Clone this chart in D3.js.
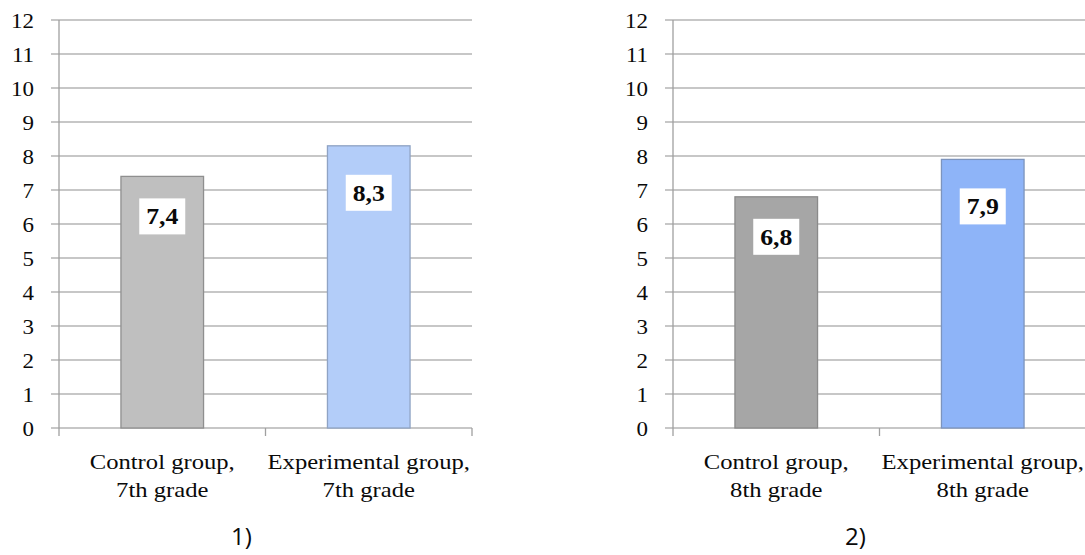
<!DOCTYPE html>
<html>
<head>
<meta charset="utf-8">
<script src="https://cdn.jsdelivr.net/npm/d3@7"></script>
<style>
  body { margin: 0; background: #fff; }
  svg text { font-family: 'Liberation Serif', 'Times New Roman', Tinos, Times, serif; fill: #0a0a0a; }
  svg text.caption { font-family: 'Open Sans', 'Liberation Sans', sans-serif; }
</style>
</head>
<body>
<div id="chart"></div>
<script>
var yTicks = [0, 1, 2, 3, 4, 5, 6, 7, 8, 9, 10, 11, 12];
var categories7 = ['Control group, 7th grade', 'Experimental group, 7th grade'];
var categories8 = ['Control group, 8th grade', 'Experimental group, 8th grade'];
var values7 = [7.4, 8.3];
var values8 = [6.8, 7.9];
var captions = ['1)', '2)'];

var width = 1085, height = 555;
var plotHeight = 408, plotWidth = 413, plotTop = 20;
var stretch = 1.12; // the source picture is slightly wider than tall
var labelDy = [40, 47];

var svg = d3.select('#chart').append('svg')
  .attr('width', width)
  .attr('height', height);

var panels = [
  { left: 59, cats: categories7, vals: values7, caption: captions[0],
    fill: ['#bfbfbf', '#b3cdf9'], stroke: ['#8f8f8f', '#8fa3c4'] },
  { left: 673, cats: categories8, vals: values8, caption: captions[1],
    fill: ['#a6a6a6', '#8eb4f8'], stroke: ['#8a8a8a', '#7d94bd'] }
];

function stretched(sel) {
  sel.attr('transform', function() {
    var t = d3.select(this);
    var x = +t.attr('x') || 0, y = +t.attr('y') || 0;
    return 'translate(' + x + ',' + y + ') scale(' + stretch + ',1) translate(' + (-x) + ',' + (-y) + ')';
  });
}

var y = d3.scaleLinear().domain([0, 12]).range([plotHeight, 0]);

panels.forEach(function(p) {
  var g = svg.append('g').attr('transform', 'translate(' + p.left + ',' + plotTop + ')');
  var x = d3.scaleBand().domain(p.cats).range([0, plotWidth]).paddingInner(0.6).paddingOuter(0.3);

  // gridlines with little ticks to the left
  g.selectAll('.grid').data(yTicks).enter().append('line')
    .attr('x1', -8).attr('x2', plotWidth)
    .attr('y1', function(d) { return y(d); })
    .attr('y2', function(d) { return y(d); })
    .attr('stroke', '#b4b4b4').attr('stroke-width', 1.3);

  // y axis line
  g.append('line')
    .attr('x1', 0).attr('x2', 0).attr('y1', 0).attr('y2', plotHeight)
    .attr('stroke', '#a0a0a0').attr('stroke-width', 1.3);

  // category boundary ticks below the axis
  g.selectAll('.xtick').data(d3.range(p.cats.length + 1)).enter().append('line')
    .attr('x1', function(i) { return i * plotWidth / p.cats.length; })
    .attr('x2', function(i) { return i * plotWidth / p.cats.length; })
    .attr('y1', plotHeight).attr('y2', plotHeight + 8)
    .attr('stroke', '#a0a0a0').attr('stroke-width', 1.3);

  // y tick labels
  g.selectAll('.ylab').data(yTicks).enter().append('text')
    .attr('x', -25).attr('y', function(d) { return y(d); })
    .attr('dy', '0.38em')
    .attr('text-anchor', 'end')
    .style('font-size', '20.5px')
    .text(function(d) { return d; })
    .call(stretched);

  // bars
  g.selectAll('.bar').data(p.vals).enter().append('rect')
    .attr('x', function(d, i) { return x(p.cats[i]); })
    .attr('width', x.bandwidth())
    .attr('y', function(d) { return y(d); })
    .attr('height', function(d) { return plotHeight - y(d); })
    .attr('fill', function(d, i) { return p.fill[i]; })
    .attr('stroke', function(d, i) { return p.stroke[i]; })
    .attr('stroke-width', 1.3);

  // value labels in white boxes
  var lab = g.selectAll('.val').data(p.vals).enter().append('g')
    .attr('transform', function(d, i) {
      return 'translate(' + (x(p.cats[i]) + x.bandwidth() / 2) + ',' + (y(d) + labelDy[i]) + ')';
    });
  lab.append('rect')
    .attr('x', -23).attr('y', -18).attr('width', 46).attr('height', 36)
    .attr('fill', '#fff');
  lab.append('text')
    .attr('x', 0).attr('y', 0).attr('dy', '0.35em')
    .attr('text-anchor', 'middle')
    .style('font-size', '23px').style('font-weight', 'bold')
    .text(function(d) { return String(d).replace('.', ','); })
    .call(stretched);

  // category labels on two lines
  p.cats.forEach(function(c, i) {
    var parts = c.split(', ');
    var cx = x(c) + x.bandwidth() / 2;
    [parts[0] + ',', parts[1]].forEach(function(line, k) {
      g.append('text')
        .attr('x', cx).attr('y', plotHeight + 41 + k * 28)
        .attr('text-anchor', 'middle')
        .style('font-size', '22px')
        .text(line)
        .call(stretched);
    });
  });

  // panel caption
  g.append('text')
    .attr('class', 'caption')
    .attr('x', plotWidth / 2 - 24).attr('y', plotHeight + 117)
    .attr('text-anchor', 'middle')
    .style('font-size', '24px')
    .text(p.caption);
});
</script>
</body>
</html>
